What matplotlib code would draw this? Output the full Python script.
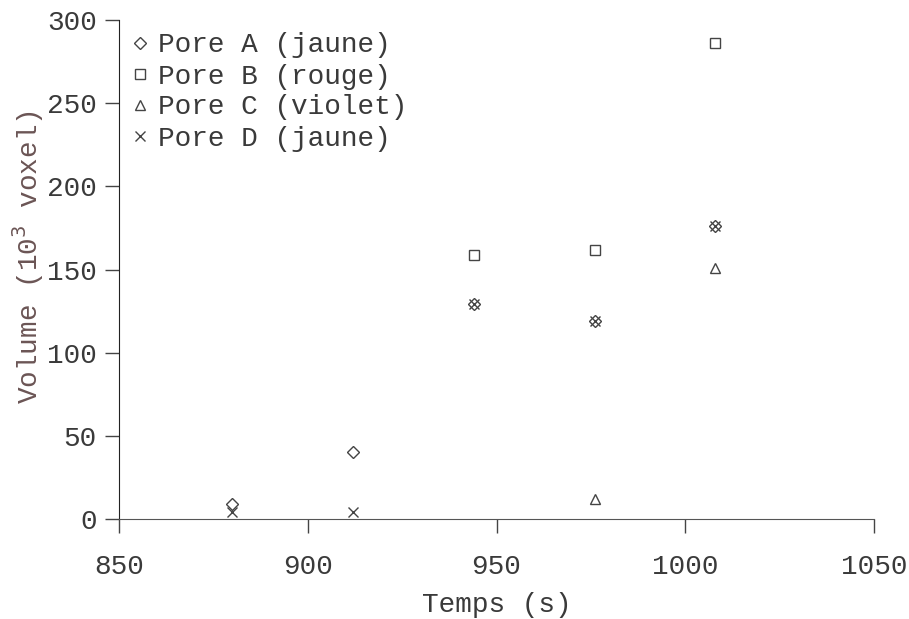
import matplotlib.pyplot as plt

plt.rcParams['font.family'] = ['Liberation Mono', 'DejaVu Sans Mono']

# data
temps_a = [880, 912, 944, 976, 1008]
vol_a = [9, 40, 129, 119, 176]
temps_b = [944, 976, 1008]
vol_b = [159, 162, 286]
temps_c = [976, 1008]
vol_c = [12, 151]
temps_d = [880, 912, 944, 976, 1008]
vol_d = [4, 4, 129, 119, 176]

labels = ['Pore A (jaune)', 'Pore B (rouge)', 'Pore C (violet)', 'Pore D (jaune)']

fig = plt.figure(figsize=(9.09, 6.19), dpi=100)
ax = fig.add_axes([119 / 909, 1 - 519 / 619, (874 - 119) / 909, (519 - 20) / 619])

mk = dict(linestyle='none', markerfacecolor='none', markeredgecolor='#444444',
          markeredgewidth=1.0, markersize=7)
ax.plot(temps_a, vol_a, marker='D', label=labels[0], **dict(mk, markersize=6))
ax.plot(temps_b, vol_b, marker='s', label=labels[1], **mk)
ax.plot(temps_c, vol_c, marker='^', label=labels[2], **mk)
ax.plot(temps_d, vol_d, marker='x', label=labels[3], **mk)

ax.set_xlim(850, 1050)
ax.set_ylim(0, 300)
ax.set_xticks([850, 900, 950, 1000, 1050])
ax.set_yticks([0, 50, 100, 150, 200, 250, 300])

ax.spines['top'].set_visible(False)
ax.spines['right'].set_visible(False)
ax.spines['left'].set_color('#222222')
ax.spines['bottom'].set_color('#555555')
ax.tick_params(direction='out', length=10, width=1, color='#444444',
               labelsize=20, labelcolor='#3a3a3a', pad=6)
ax.tick_params(axis='x', pad=15)

ax.set_xlabel('Temps (s)', fontsize=20, color='#3a3a3a', labelpad=9)
ax.set_ylabel('Volume (10$^{3}$ voxel)', fontsize=20, color='#6b5555')
ax.yaxis.set_label_coords(-0.097, 0.525)

ax.legend(loc='upper left', frameon=False, fontsize=20, handlelength=0.6,
          handletextpad=0.35, labelspacing=0.18, borderaxespad=0.3,
          labelcolor='#3a3a3a', borderpad=0.15)

fig.savefig('out.png', dpi=100)
